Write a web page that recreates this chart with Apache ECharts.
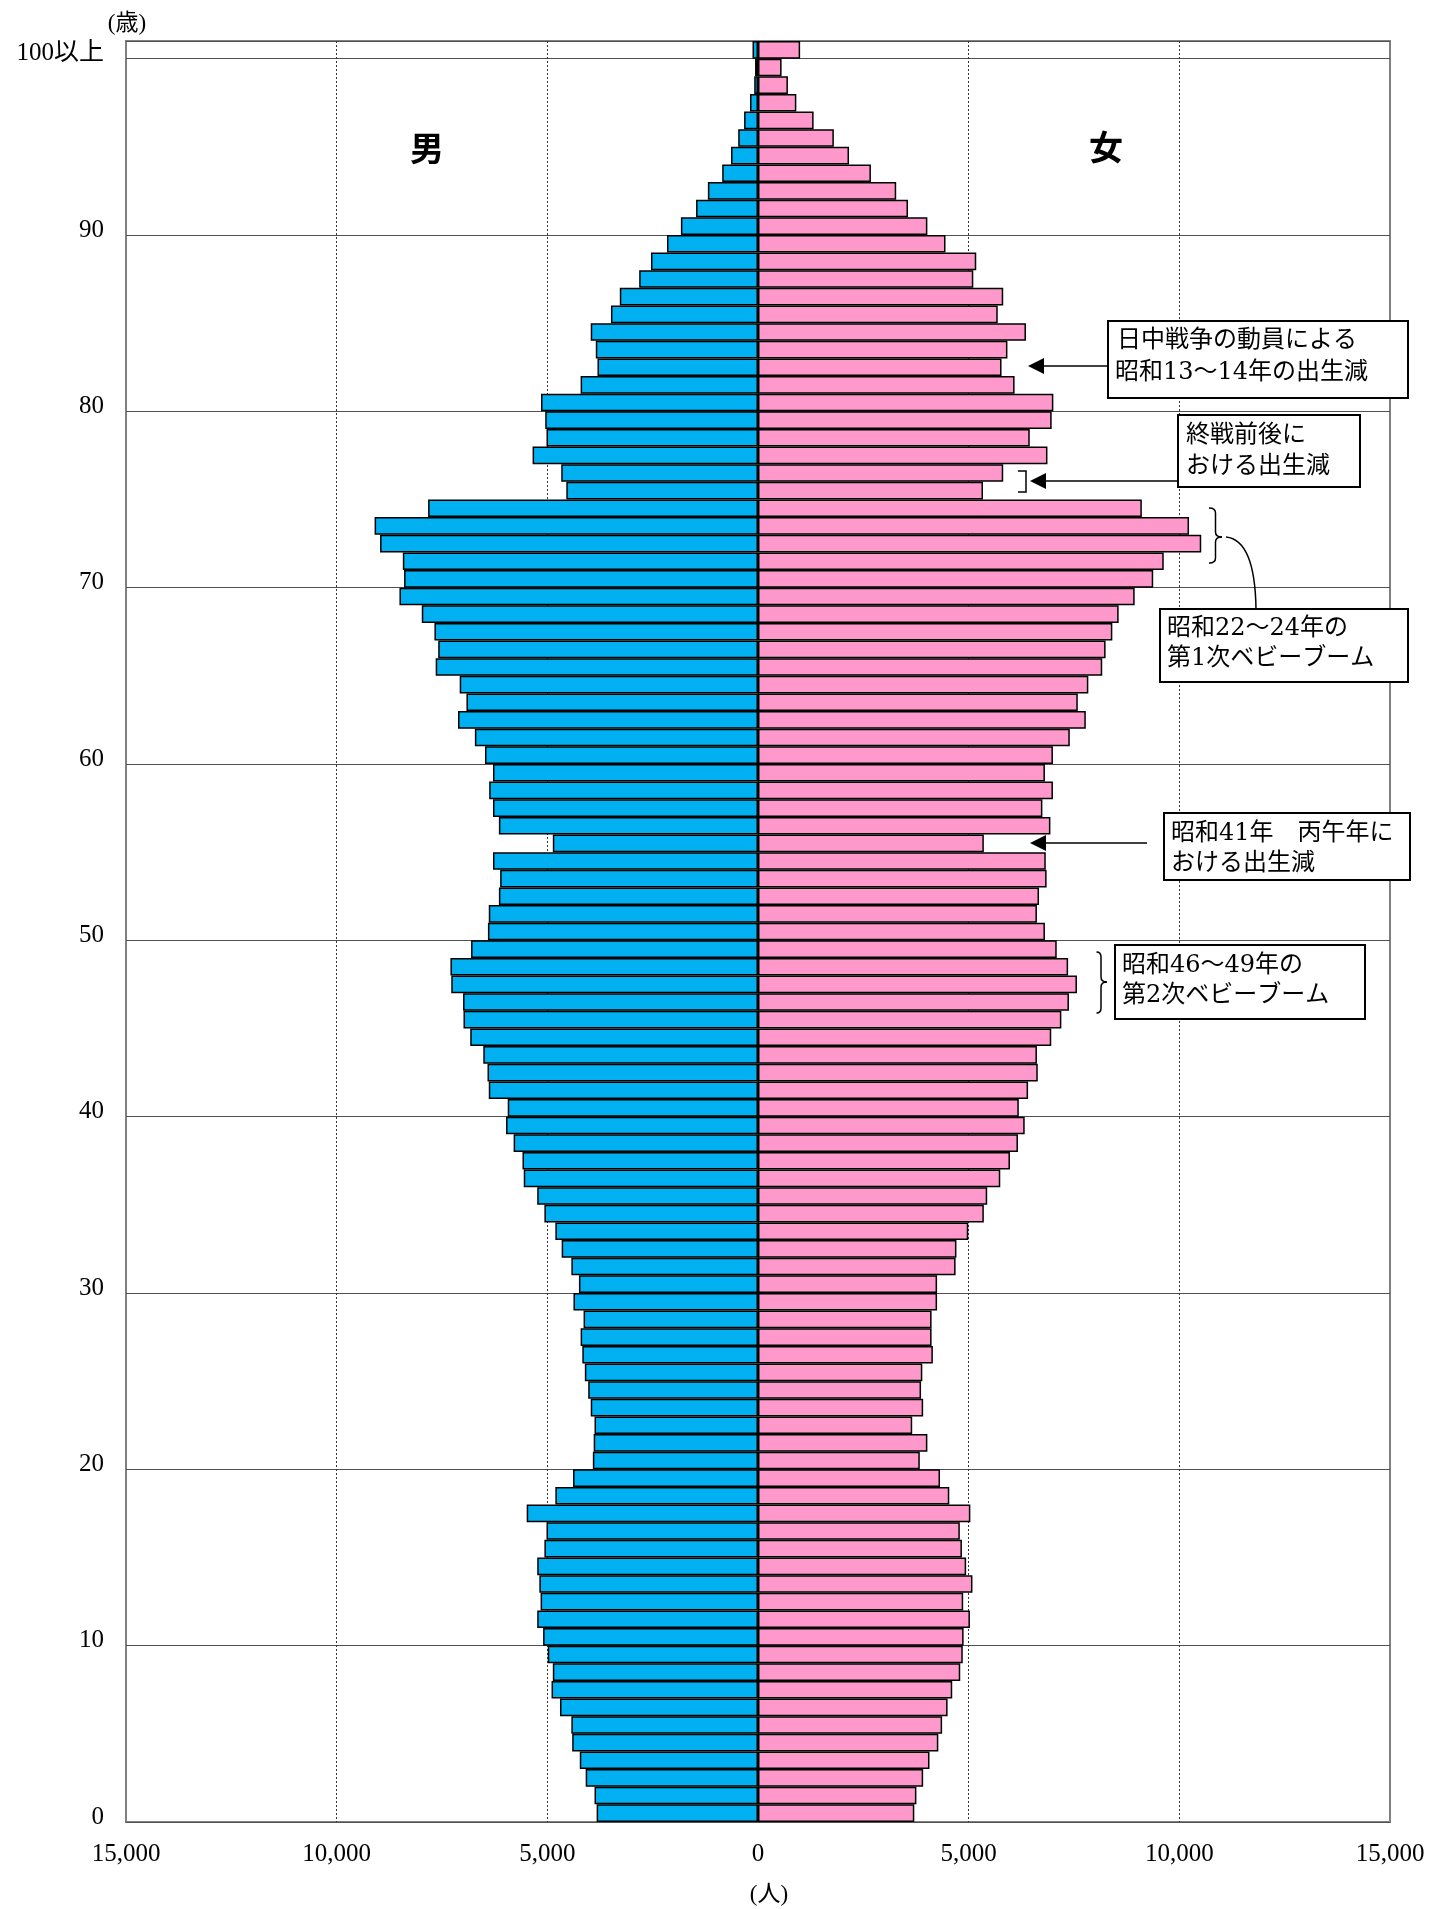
<!DOCTYPE html>
<html>
<head>
<meta charset="utf-8">
<title>年齢別人口</title>
<script src="https://cdn.jsdelivr.net/npm/echarts@6/dist/echarts.min.js"></script>
<style>
  html, body { margin: 0; padding: 0; background: #fff; }
  #pyramid { width: 1431px; height: 1909px; }
</style>
</head>
<body>
<div id="pyramid"></div>
<script>
// 年齢（0歳 ～ 100以上）
var ages = []
for (var i = 0; i <= 100; i++) ages.push(i === 100 ? '100以上' : String(i))

// 縦軸に出す目盛
var ageTickLabels = ['0', '10', '20', '30', '40', '50', '60', '70', '80', '90', '100以上']

// 男（0歳から順に）
var maleValues = [
  3830, 3880, 4090, 4230, 4410, 4430, 4700, 4900, 4870, 4990,
  5100, 5240, 5160, 5190, 5240, 5070, 5020, 5490, 4810, 4390,
  3920, 3900, 3880, 3970, 4030, 4110, 4170, 4210, 4140, 4380,
  4250, 4430, 4660, 4810, 5070, 5240, 5560, 5590, 5800, 5980,
  5940, 6390, 6420, 6520, 6830, 6990, 7000, 7280, 7300, 6810,
  6410, 6390, 6150, 6120, 6290, 4870, 6150, 6290, 6380, 6290,
  6480, 6720, 7120, 6920, 7080, 7650, 7590, 7680, 7980, 8510,
  8400, 8430, 8970, 9100, 7830, 4550, 4670, 5350, 5020, 5050,
  5150, 4210, 3810, 3850, 3970, 3490, 3280, 2820, 2540, 2160,
  1830, 1470, 1190, 850, 640, 470, 330, 190, 90, 70,
  130
]

// 女（0歳から順に）
var femaleValues = [
  3710, 3760, 3920, 4070, 4280, 4370, 4500, 4610, 4800, 4860,
  4880, 5030, 4870, 5090, 4940, 4840, 4790, 5040, 4540, 4320,
  3840, 4020, 3660, 3920, 3870, 3900, 4150, 4120, 4120, 4250,
  4250, 4690, 4710, 4990, 5360, 5440, 5750, 5980, 6170, 6330,
  6190, 6410, 6640, 6620, 6960, 7200, 7380, 7570, 7360, 7090,
  6810, 6620, 6670, 6850, 6830, 5360, 6940, 6750, 7000, 6810,
  7000, 7400, 7780, 7590, 7840, 8170, 8250, 8410, 8560, 8940,
  9380, 9630, 10520, 10230, 9110, 5340, 5820, 6870, 6450, 6970,
  7010, 6090, 5780, 5920, 6360, 5690, 5820, 5110, 5180, 4450,
  4020, 3560, 3280, 2680, 2160, 1800, 1320, 910, 710, 560,
  1000
]

var serifFont = '"Liberation Serif", "Noto Sans CJK JP", serif'
var noteFont = '"DejaVu Serif", "Noto Sans CJK JP", serif'
var gothicFont = '"Noto Sans CJK JP", sans-serif'

function isTick(index) {
  return ageTickLabels.indexOf(ages[index]) >= 0
}

// 注記の文字
function note(text, x, y) {
  return {
    type: 'text', x: x, y: y, z: 20,
    style: { text: text, fontSize: 24, fontFamily: noteFont, fill: '#000', align: 'left', verticalAlign: 'middle' }
  }
}
function box(x, y, w, h) {
  return { type: 'rect', z: 19, shape: { x: x, y: y, width: w, height: h }, style: { fill: '#fff', stroke: '#000', lineWidth: 2 } }
}
function arrow(xFrom, xTip, y) {
  return [
    { type: 'line', z: 19, shape: { x1: xFrom, y1: y, x2: xTip + 14, y2: y }, style: { stroke: '#000', lineWidth: 1.5 } },
    { type: 'polygon', z: 19, shape: { points: [[xTip, y], [xTip + 16, y - 8], [xTip + 16, y + 8]] }, style: { fill: '#000' } }
  ]
}
// 右向きの中かっこ
function brace(xL, xM, xR, yTop, yMid, yBot) {
  var r = 5
  var s = { stroke: '#000', lineWidth: 1.5, fill: null }
  return [
    { type: 'bezierCurve', z: 19, shape: { x1: xL, y1: yTop, cpx1: xM, cpy1: yTop, x2: xM, y2: yTop + r }, style: s },
    { type: 'line', z: 19, shape: { x1: xM, y1: yTop + r, x2: xM, y2: yMid - r }, style: s },
    { type: 'bezierCurve', z: 19, shape: { x1: xM, y1: yMid - r, cpx1: xM, cpy1: yMid, x2: xR, y2: yMid }, style: s },
    { type: 'bezierCurve', z: 19, shape: { x1: xR, y1: yMid, cpx1: xM, cpy1: yMid, x2: xM, y2: yMid + r }, style: s },
    { type: 'line', z: 19, shape: { x1: xM, y1: yMid + r, x2: xM, y2: yBot - r }, style: s },
    { type: 'bezierCurve', z: 19, shape: { x1: xM, y1: yBot - r, cpx1: xM, cpy1: yBot, x2: xL, y2: yBot }, style: s }
  ]
}

var graphics = [
  { type: 'text', x: 427, y: 148, style: { text: '男', fontSize: 34, fontWeight: 'bold', fontFamily: gothicFont, fill: '#000', align: 'center', verticalAlign: 'middle' } },
  { type: 'text', x: 1106, y: 147, style: { text: '女', fontSize: 34, fontWeight: 'bold', fontFamily: gothicFont, fill: '#000', align: 'center', verticalAlign: 'middle' } },
  { type: 'text', x: 127, y: 24, style: { text: '(歳)', fontSize: 23, fontFamily: serifFont, fill: '#000', align: 'center', verticalAlign: 'middle' } },
  { type: 'text', x: 769, y: 1895, style: { text: '(人)', fontSize: 23, fontFamily: serifFont, fill: '#000', align: 'center', verticalAlign: 'middle' } },

  // 日中戦争
  box(1108, 321, 300, 77),
  note('日中戦争の動員による', 1117, 341),
  note('昭和13～14年の出生減', 1115, 373),

  // 終戦前後
  box(1178, 415, 182, 72),
  note('終戦前後に', 1186, 436),
  note('おける出生減', 1186, 467),
  { type: 'polyline', z: 19, shape: { points: [[1018, 471], [1026, 471], [1026, 492], [1018, 492]] }, style: { stroke: '#000', lineWidth: 1.5, fill: null } },

  // 第1次ベビーブーム
  { type: 'bezierCurve', z: 19, shape: { x1: 1226, y1: 537, cpx1: 1255, cpy1: 540, x2: 1256, y2: 609 }, style: { stroke: '#000', lineWidth: 1.5, fill: null } },
  box(1160, 609, 248, 73),
  note('昭和22～24年の', 1167, 629),
  note('第1次ベビーブーム', 1167, 659),

  // 丙午
  box(1164, 813, 246, 67),
  note('昭和41年　丙午年に', 1171, 834),
  note('おける出生減', 1171, 864),

  // 第2次ベビーブーム
  box(1115, 945, 250, 74),
  note('昭和46～49年の', 1122, 966),
  note('第2次ベビーブーム', 1122, 996)
]
graphics = graphics
  .concat(arrow(1108, 1028, 366))
  .concat(arrow(1178, 1030, 481))
  .concat(arrow(1147, 1030, 843))
  .concat(brace(1209, 1215.5, 1222, 508, 537, 563))
  .concat(brace(1096.5, 1101, 1107, 952, 982, 1013))

var option = {
  animation: false,
  backgroundColor: '#fff',
  grid: {
    left: 126,
    right: 41,
    top: 41,
    bottom: 87,
    show: true,
    borderColor: '#808080',
    borderWidth: 2,
    outerBoundsMode: 'none'
  },
  xAxis: {
    type: 'value',
    min: -15000,
    max: 15000,
    interval: 5000,
    axisLine: { show: false },
    axisTick: { show: false },
    axisLabel: {
      margin: 20,
      color: '#000',
      fontSize: 25,
      fontFamily: serifFont,
      formatter: function (v) {
        return String(Math.abs(v)).replace(/\B(?=(\d{3})+(?!\d))/g, ',')
      }
    },
    splitLine: {
      show: true,
      showMinLine: false,
      showMaxLine: false,
      lineStyle: { color: '#333', width: 1, type: [2, 2] }
    }
  },
  yAxis: {
    type: 'category',
    data: ages,
    axisLine: { show: false },
    axisTick: { show: false },
    axisLabel: {
      interval: isTick,
      margin: 22,
      color: '#000',
      fontSize: 25,
      fontFamily: serifFont,
      verticalAlign: 'top',
      lineHeight: 8
    },
    splitLine: {
      show: true,
      interval: isTick,
      lineStyle: { color: '#505050', width: 1 }
    }
  },
  series: [
    {
      name: '男',
      type: 'bar',
      data: maleValues.map(function (v) { return -v }),
      barCategoryGap: '0%',
      barGap: '-100%',
      itemStyle: { color: '#00B0F0', borderColor: '#000', borderWidth: 1.5 }
    },
    {
      name: '女',
      type: 'bar',
      data: femaleValues,
      barCategoryGap: '0%',
      barGap: '-100%',
      itemStyle: { color: '#FF99CC', borderColor: '#000', borderWidth: 1.5 }
    }
  ],
  graphic: graphics
}

var chart = echarts.init(document.getElementById('pyramid'))
chart.setOption(option)
</script>
</body>
</html>
